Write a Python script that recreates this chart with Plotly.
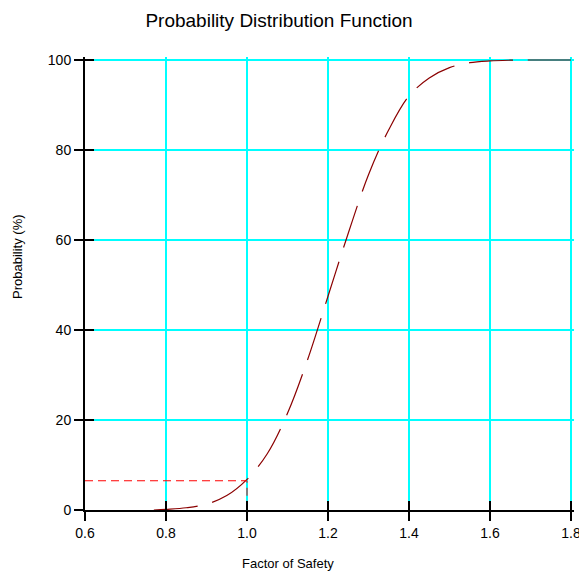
import plotly.graph_objects as go

# Factor of safety values and cumulative probability (%)
fos = [0.77, 0.80, 0.85, 0.90, 0.95, 1.00, 1.05, 1.10, 1.15, 1.20, 1.25, 1.30,
       1.35, 1.40, 1.45, 1.50, 1.55, 1.60, 1.65, 1.70, 1.80]
prob = [0.0, 0.15, 0.5, 1.3, 3.2, 6.8, 12.5, 21.5, 33.5, 47.5, 61.5, 74.5,
        84.5, 92.0, 96.0, 98.3, 99.4, 99.8, 99.95, 100.0, 100.0]

# Reference marker: FOS = 1.0 and probability of failure
fos_target = 1.0
prob_target = 6.5
x_min = 0.6

x_ticks = [0.6, 0.8, 1.0, 1.2, 1.4, 1.6, 1.8]
x_tick_text = ["0.6", "0.8", "1.0", "1.2", "1.4", "1.6", "1.8"]
y_ticks = [0, 20, 40, 60, 80, 100]

FONT = "Liberation Sans, Arial, sans-serif"

fig = go.Figure()

fig.add_trace(go.Scatter(
    x=fos, y=prob, mode="lines", line=dict(color="#8B0000", width=1.2, dash="44px,15px", shape="spline"),
    showlegend=False, hoverinfo="skip"))

fig.add_trace(go.Scatter(
    x=[x_min, fos_target, fos_target], y=[prob_target, prob_target, 0], mode="lines",
    line=dict(color="#FF0000", width=1, dash="8px,5px"), showlegend=False, hoverinfo="skip"))

# invisible trace to activate the mirrored axes for inside ticks
fig.add_trace(go.Scatter(x=[x_min], y=[0], xaxis="x2", yaxis="y2", mode="markers",
                         marker=dict(opacity=0), showlegend=False, hoverinfo="skip"))

axis_common = dict(showline=True, linecolor="black", linewidth=2, ticks="outside",
                   ticklen=9, tickwidth=2, tickcolor="black", zeroline=False, automargin=False,
                   ticklabeloverflow="allow",
                   tickfont=dict(family=FONT, size=14, color="black"))

# ranges with a little headroom so the grid lines at 1.8 and 100 are drawn
PX_X = 405.0   # pixels per unit of factor of safety
PX_Y = 4.5     # pixels per percent
PLOT_W = 579 - 85 - 5
PLOT_H = 573 - 57 - 63
XR = [0.6, 0.6 + PLOT_W / PX_X]
YR = [0, PLOT_H / PX_Y]

fig.update_layout(
    template="none",
    width=579, height=573,
    margin=dict(l=85, r=5, t=57, b=63),
    paper_bgcolor="white", plot_bgcolor="white",
    title=dict(text="Probability Distribution Function", x=279 / 579, xref="container",
               y=1 - 20 / 573, yref="container", xanchor="center", yanchor="middle",
               font=dict(family=FONT, size=19, color="black")),
    xaxis=dict(range=XR, tickvals=x_ticks, ticktext=x_tick_text,
               showgrid=True, gridcolor="#00FFFF", gridwidth=2, **axis_common),
    yaxis=dict(range=YR, tickvals=y_ticks, showgrid=True, gridcolor="#00FFFF",
               gridwidth=2, **axis_common),
    xaxis2=dict(range=XR, tickvals=x_ticks, overlaying="x", anchor="y2", side="bottom",
                showgrid=False, showticklabels=False, ticks="inside", ticklen=9, tickwidth=2,
                tickcolor="black", zeroline=False, showline=False, automargin=False),
    yaxis2=dict(range=YR, tickvals=y_ticks, overlaying="y", anchor="x2", side="left",
                showgrid=False, showticklabels=False, ticks="inside", ticklen=9, tickwidth=2,
                tickcolor="black", zeroline=False, showline=False, automargin=False),
    annotations=[
        dict(text="Factor of Safety", x=(288 - 85) / PLOT_W, y=(510 - 563) / PLOT_H, xref="paper",
             yref="paper", showarrow=False, font=dict(family=FONT, size=13, color="black"),
             xanchor="center", yanchor="middle"),
        dict(text="Probability (%)", x=(17 - 85) / PLOT_W, y=(510 - 257) / PLOT_H, xref="paper",
             yref="paper", showarrow=False, textangle=-90,
             font=dict(family=FONT, size=13, color="black"), xanchor="center", yanchor="middle"),
    ],
)

fig.write_html("out.html", config={"displayModeBar": False},
               post_script="document.body.style.margin='0';document.body.style.overflow='hidden';")
